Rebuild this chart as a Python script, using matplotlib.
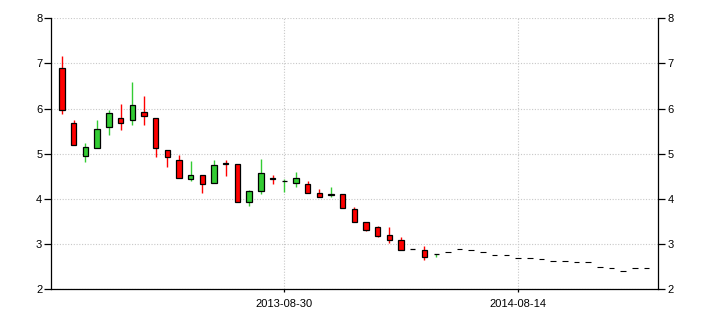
import numpy as np
import matplotlib
matplotlib.use("Agg")
import matplotlib.pyplot as plt

# ---- data ----
opens  = [6.89, 5.69, 4.95, 5.12, 5.58, 5.78, 5.74, 5.93, 5.78, 5.07, 4.87,
          4.44, 4.52, 4.34, 4.80, 4.76, 3.93, 4.18, 4.45, 4.39, 4.35, 4.32,
          4.13, 4.09, 4.10, 3.77, 3.48, 3.37, 3.19, 3.08, 2.89, 2.86, 2.77]
highs  = [7.16, 5.74, 5.23, 5.74, 5.96, 6.11, 6.58, 6.27, 5.78, 5.07, 4.98,
          4.83, 4.52, 4.87, 4.87, 4.76, 4.19, 4.88, 4.52, 4.43, 4.59, 4.39,
          4.21, 4.26, 4.10, 3.82, 3.48, 3.40, 3.37, 3.15, 2.89, 2.95, 2.77]
lows   = [5.88, 5.20, 4.81, 5.12, 5.42, 5.53, 5.63, 5.64, 4.93, 4.71, 4.47,
          4.40, 4.13, 4.34, 4.51, 3.93, 3.84, 4.10, 4.33, 4.15, 4.25, 4.13,
          4.04, 4.04, 3.80, 3.49, 3.29, 3.15, 3.02, 2.86, 2.89, 2.65, 2.72]
closes = [5.96, 5.20, 5.14, 5.54, 5.91, 5.69, 6.07, 5.84, 5.12, 4.92, 4.47,
          4.52, 4.32, 4.75, 4.76, 3.93, 4.17, 4.57, 4.43, 4.40, 4.45, 4.13,
          4.04, 4.10, 3.80, 3.49, 3.31, 3.18, 3.08, 2.86, 2.89, 2.70, 2.77]

# forecast values (dashed steps after the last candle)
forecast = [2.83, 2.88, 2.86, 2.81, 2.76, 2.76, 2.68, 2.68, 2.66, 2.61,
            2.61, 2.59, 2.59, 2.48, 2.46, 2.39, 2.46, 2.46]

tick_pos = [19, 39]
tick_labels = ["2013-08-30", "2014-08-14"]
yticks = [2, 3, 4, 5, 6, 7, 8]

# ---- figure ----
plt.rcParams["font.family"] = ["Liberation Sans", "DejaVu Sans"]
fig = plt.figure(figsize=(7.1, 3.25), dpi=100)
ax = fig.add_axes([0.0723, 0.1108, 0.8549, 0.8329])

x = np.arange(len(opens))
o = np.array(opens)
c = np.array(closes)
up = c >= o
body_col = np.where(up, "#33cc33", "#ff0000")

# wicks
ax.vlines(x, lows, highs, colors=body_col, linewidth=1.0, zorder=2)
# bodies
ax.bar(x, np.abs(c - o), bottom=np.minimum(o, c), width=0.46,
       color=body_col, edgecolor="black", linewidth=0.9, zorder=3)

# forecast dashes
fx = np.arange(len(opens), len(opens) + len(forecast))
ax.hlines(forecast, fx - 0.24, fx + 0.24, colors="black", linewidth=0.8, zorder=3)

ax.set_xlim(-0.92, 51.0)
ax.set_ylim(2, 8)
ax.set_yticks(yticks)
ax.set_xticks(tick_pos)
ax.set_xticklabels(tick_labels)

ax.grid(True, color="#c8c8c8", linestyle=(0, (1, 1.5)), linewidth=0.8)
ax.set_axisbelow(True)

ax.spines["top"].set_visible(False)
for s in ["left", "right", "bottom"]:
    ax.spines[s].set_linewidth(0.9)

ax.tick_params(axis="y", which="both", left=True, right=True,
               labelleft=True, labelright=True, length=5, width=0.9,
               pad=1.5, labelsize=8)
ax.tick_params(axis="x", length=2.5, width=0.9, pad=5, labelsize=8)

fig.savefig("out.png", dpi=100)
